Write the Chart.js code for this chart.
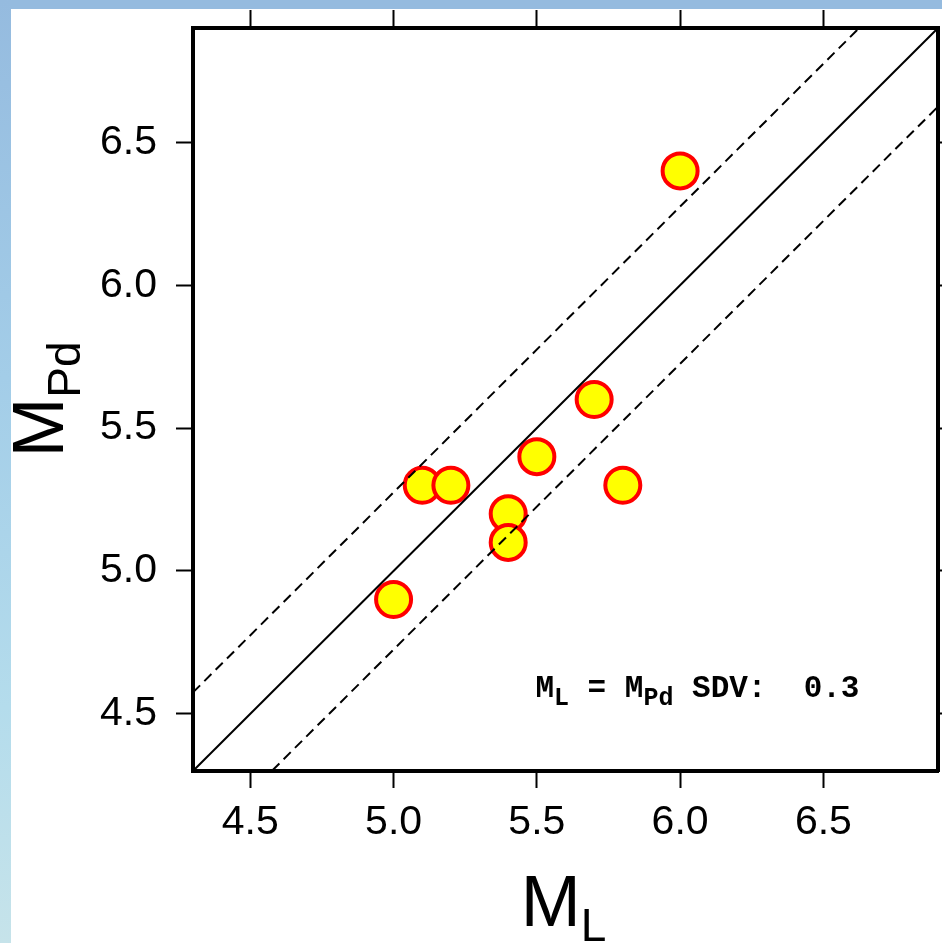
<!DOCTYPE html>
<html>
<head>
<meta charset="utf-8">
<title>M_L vs M_Pd</title>
<script src="https://cdn.jsdelivr.net/npm/chart.js@4/dist/chart.umd.min.js"></script>
<style>
    html, body { margin: 0; padding: 0; background: #fff; overflow: hidden; }
    #wrap { position: relative; width: 942px; height: 943px; overflow: hidden; }
    #topBar { position: absolute; left: 0; top: 0; width: 942px; height: 9px; background: #95bbdf; z-index: 2; }
    #leftBar {
        position: absolute; left: 0; top: 0; width: 11px; height: 943px; z-index: 2;
        background: linear-gradient(to bottom, #95bbdf 0%, #a3cde8 40%, #b4dcec 75%, #c6e3ea 100%);
    }
    canvas { position: absolute; left: 0; top: 0; }
</style>
</head>
<body>
<div id="wrap">
    <div id="topBar"></div>
    <div id="leftBar"></div>
    <canvas id="chart" width="960" height="943"></canvas>
</div>
<script>
// values
const mL  = [5.0, 5.1, 5.2, 5.4, 5.4, 5.5, 5.7, 5.8, 6.0];
const mPd = [4.9, 5.3, 5.3, 5.2, 5.1, 5.4, 5.6, 5.3, 6.4];
const tickValues = [4.5, 5.0, 5.5, 6.0, 6.5];
const axisMin = 4.3;
const axisMax = 6.9;

// 1:1 line and the +/- SDV band (end points, clipped by the chart area)
const identityLine = [[4.3, 4.3], [6.9, 6.9]];
const upperLine = [[4.3, 4.575], [6.9, 7.175]];
const lowerLine = [[4.3, 4.025], [6.9, 6.625]];

const noteSdv = '0.3';
const noteX = 5.495;  // where the SDV note starts
const noteY = 4.56;   // its baseline

const sans = '"Liberation Sans", Arial, Helvetica, sans-serif';
const mono = '"Liberation Mono", "Courier New", monospace';

const toXY = pts => pts.map(p => ({ x: p[0], y: p[1] }));

// draw a label made of normal and subscript pieces
function drawSubLabel(ctx, parts, x, y) {
    let cx = x;
    parts.forEach(p => {
        ctx.font = p.font;
        ctx.fillText(p.text, cx, y + (p.shift || 0));
        cx += ctx.measureText(p.text).width;
    });
}

function measureParts(ctx, parts) {
    let w = 0;
    parts.forEach(p => {
        ctx.font = p.font;
        w += ctx.measureText(p.text).width;
    });
    return w;
}

const labelsPlugin = {
    id: 'labels',
    afterDraw(chart) {
        const ctx = chart.ctx;
        const area = chart.chartArea;
        const xs = chart.scales.x;
        const ys = chart.scales.y;
        ctx.save();
        ctx.fillStyle = '#000';
        ctx.textBaseline = 'alphabetic';
        ctx.textAlign = 'left';

        // x title: M_L
        const xParts = [
            { text: 'M', font: '72px ' + sans },
            { text: 'L', font: '46px ' + sans, shift: 15 }
        ];
        const xw = measureParts(ctx, xParts);
        drawSubLabel(ctx, xParts, (area.left + area.right) / 2 - xw / 2 - 2, 926);

        // y title: M_Pd, rotated
        const yParts = [
            { text: 'M', font: '72px ' + sans },
            { text: 'Pd', font: '46px ' + sans, shift: 17 }
        ];
        const yw = measureParts(ctx, yParts);
        ctx.save();
        ctx.translate(63, (area.top + area.bottom) / 2);
        ctx.rotate(-Math.PI / 2);
        drawSubLabel(ctx, yParts, -yw / 2, 0);
        ctx.restore();

        // SDV note
        const noteParts = [
            { text: 'M', font: 'bold 31px ' + mono },
            { text: 'L', font: 'bold 25px ' + mono, shift: 8 },
            { text: ' = M', font: 'bold 31px ' + mono },
            { text: 'Pd', font: 'bold 25px ' + mono, shift: 8 },
            { text: ' SDV:  ' + noteSdv, font: 'bold 31px ' + mono }
        ];
        drawSubLabel(ctx, noteParts, xs.getPixelForValue(noteX), ys.getPixelForValue(noteY));
        ctx.restore();
    }
};

function fixedTicks(scale) {
    scale.ticks = tickValues.map(v => ({ value: v }));
}

function axis(position, size, showLabels) {
    const horizontal = position === 'top' || position === 'bottom';
    return {
        type: 'linear',
        position: position,
        min: axisMin,
        max: axisMax,
        afterBuildTicks: fixedTicks,
        afterFit(scale) {
            if (horizontal) scale.height = size;
            else scale.width = size;
            // no extra room for half labels at the ends
            scale.paddingTop = 0;
            scale.paddingBottom = 0;
            scale.paddingLeft = 0;
            scale.paddingRight = 0;
        },
        border: { display: true, width: 4, color: '#000' },
        grid: {
            drawOnChartArea: false,
            drawTicks: true,
            tickLength: 17,
            tickWidth: 2,
            tickColor: '#000'
        },
        ticks: {
            display: showLabels,
            color: '#000',
            padding: horizontal ? 10 : 19,
            font: { family: sans, size: 41 },
            maxRotation: 0,
            autoSkip: false,
            callback: v => Number(v).toFixed(1)
        },
        title: { display: false }
    };
}

const x2 = axis('top', 28, false);
x2.grid.tickLength = 18;
const y2 = axis('right', 22, false);
y2.grid.tickLength = 18;

new Chart(document.getElementById('chart'), {
    type: 'scatter',
    data: {
        datasets: [
            {
                label: 'points',
                data: mL.map((v, i) => ({ x: v, y: mPd[i] })),
                backgroundColor: '#ffff00',
                borderColor: '#ff0000',
                borderWidth: 4,
                pointRadius: 17.5,
                pointHoverRadius: 17.5,
                order: 2
            },
            {
                label: 'identity',
                data: toXY(identityLine),
                showLine: true,
                borderColor: '#000',
                borderWidth: 2,
                pointRadius: 0,
                order: 1
            },
            {
                label: 'upper',
                data: toXY(upperLine),
                showLine: true,
                borderColor: '#000',
                borderWidth: 2,
                borderDash: [10, 6],
                pointRadius: 0,
                order: 1
            },
            {
                label: 'lower',
                data: toXY(lowerLine),
                showLine: true,
                borderColor: '#000',
                borderWidth: 2,
                borderDash: [10, 6],
                pointRadius: 0,
                order: 1
            }
        ]
    },
    options: {
        responsive: false,
        animation: false,
        devicePixelRatio: 1,
        layout: { padding: 0 },
        plugins: {
            legend: { display: false },
            tooltip: { enabled: false }
        },
        scales: {
            x: axis('bottom', 172, true),
            y: axis('left', 193, true),
            x2: x2,
            y2: y2
        }
    },
    plugins: [labelsPlugin]
});
</script>
</body>
</html>
